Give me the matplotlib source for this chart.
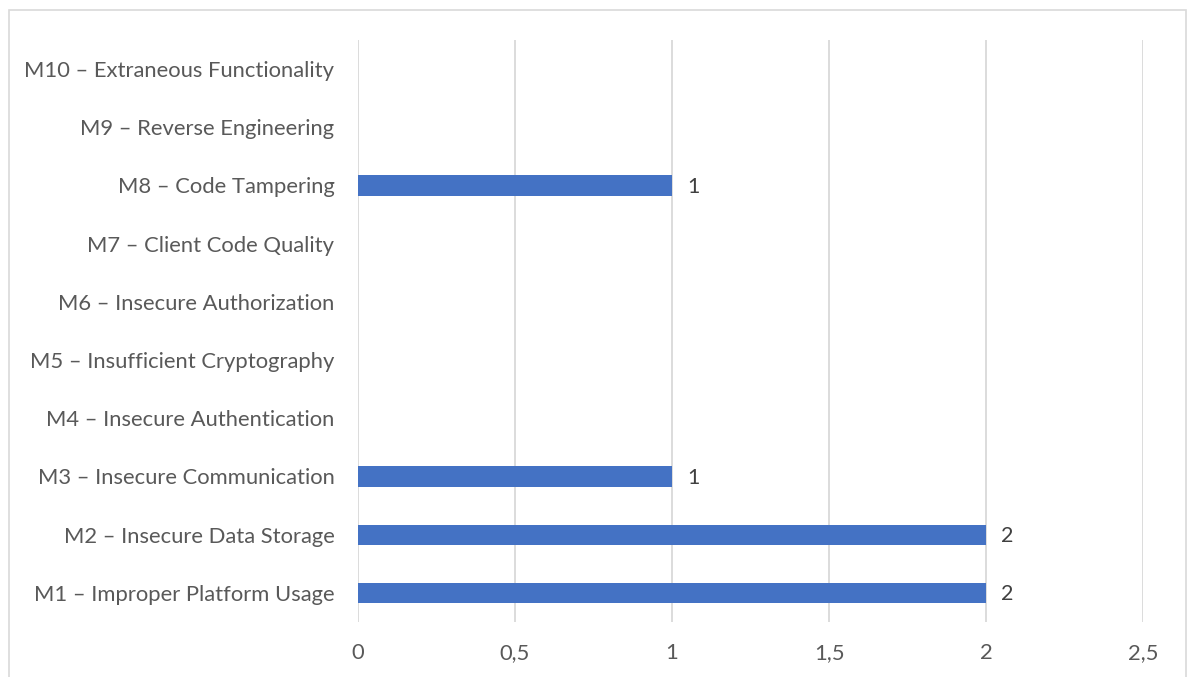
import matplotlib
matplotlib.use("Agg")
import matplotlib.pyplot as plt
from matplotlib.patches import Rectangle
from matplotlib.ticker import FixedLocator, FuncFormatter

categories = [
    "M1 – Improper Platform Usage",
    "M2 – Insecure Data Storage",
    "M3 – Insecure Communication",
    "M4 – Insecure Authentication",
    "M5 – Insufficient Cryptography",
    "M6 – Insecure Authorization",
    "M7 – Client Code Quality",
    "M8 – Code Tampering",
    "M9 – Reverse Engineering",
    "M10 – Extraneous Functionality",
]
values = [2, 2, 1, 0, 0, 0, 0, 1, 0, 0]
xticks = [0, 0.5, 1, 1.5, 2, 2.5]

plt.rcParams['font.family'] = ['Lato', 'DejaVu Sans']

W, H = 1187, 677
fig = plt.figure(figsize=(W / 100, H / 100), dpi=100)
fig.patch.set_facecolor("white")

# outer chart border
fig.patches.append(Rectangle((9 / W, -0.05), (1186 - 9) / W, (H - 10) / H + 0.05,
                             transform=fig.transFigure, fill=False,
                             edgecolor="#d9d9d9", linewidth=1.2))

left, right, top, bottom = 358, 1143, 40, 622
ax = fig.add_axes([left / W, 1 - bottom / H, (right - left) / W, (bottom - top) / H])

y = list(range(len(categories)))
ax.barh(y, values, height=0.35, color="#4472C4", zorder=3)
for yi, v in zip(y, values):
    if v > 0:
        ax.annotate(f"{v}", xy=(v, yi), xytext=(11, -1), textcoords="offset points",
                    va="center", ha="left", fontsize=15.5, color="#404040")

ax.set_xlim(0, 2.5)
ax.set_ylim(-0.5, len(categories) - 0.5)
ax.xaxis.set_major_locator(FixedLocator(xticks))
ax.xaxis.set_major_formatter(FuncFormatter(lambda v, p: (f"{v:g}").replace(".", ",")))
ax.set_yticks(y)
ax.set_yticklabels(categories)
ax.tick_params(axis="both", length=0, labelsize=15.8, labelcolor="#595959")
ax.tick_params(axis="x", pad=15)
ax.tick_params(axis="y", pad=17)
ax.grid(axis="x", color="#d9d9d9", linewidth=1.3, zorder=0)
for s in ax.spines.values():
    s.set_visible(False)

fig.savefig("out.png", dpi=100)
